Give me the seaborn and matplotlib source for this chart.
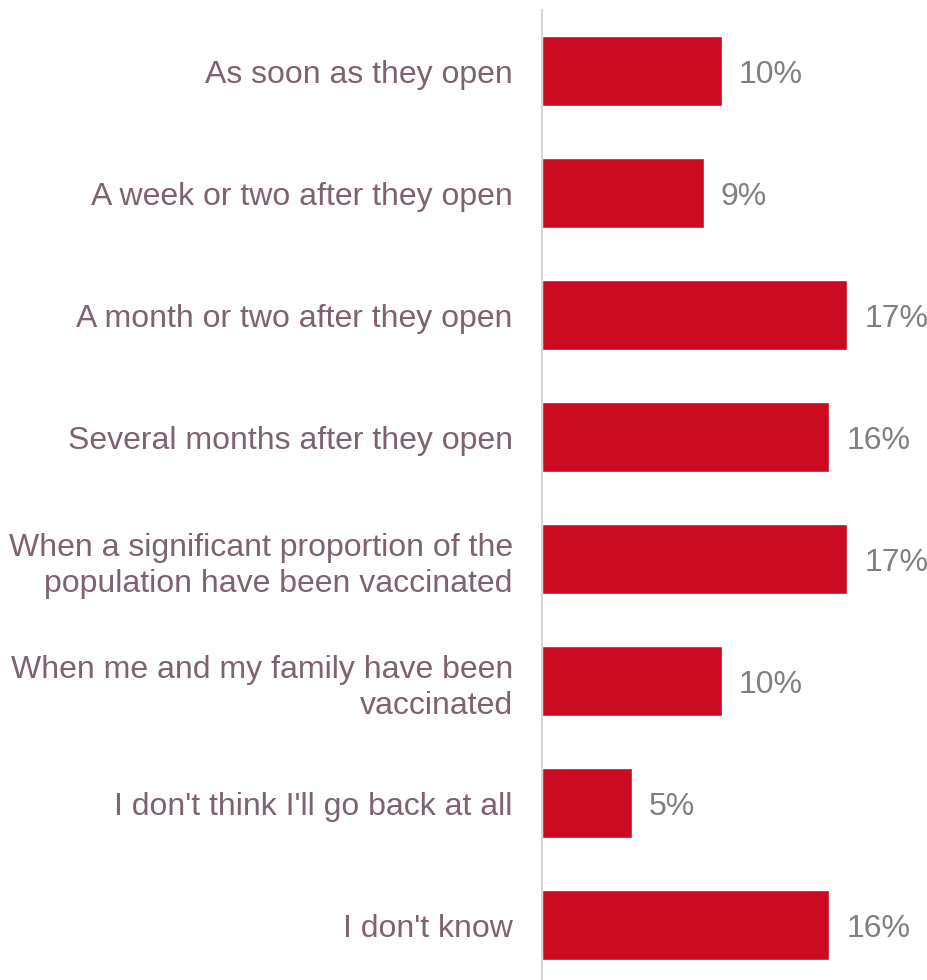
import matplotlib
matplotlib.use("Agg")
import matplotlib.pyplot as plt
import seaborn as sns
import pandas as pd

categories = [
    "As soon as they open",
    "A week or two after they open",
    "A month or two after they open",
    "Several months after they open",
    "When a significant proportion of the\npopulation have been vaccinated",
    "When me and my family have been\nvaccinated",
    "I don't think I'll go back at all",
    "I don't know",
]
values = [10, 9, 17, 16, 17, 10, 5, 16]
value_labels = ["10%", "9%", "17%", "16%", "17%", "10%", "5%", "16%"]

df = pd.DataFrame({"cat": categories, "val": values})

sns.set_theme(style="white")
plt.rcParams["font.family"] = ["Liberation Sans", "DejaVu Sans"]

W, H = 928, 980
fig = plt.figure(figsize=(W / 100, H / 100), dpi=100)
ax = fig.add_axes([542 / W, 0, 1 - 542 / W, 970 / H])

sns.barplot(data=df, x="val", y="cat", orient="h", color="#CB0B21",
            saturation=1, width=0.574, ax=ax)

ax.set_xlim(0, 21.5)
ax.set_ylim(7.45, -0.5)
ax.set_xlabel("")
ax.set_ylabel("")
ax.set_xticks([])
for s in ["top", "right", "bottom"]:
    ax.spines[s].set_visible(False)
ax.spines["left"].set_color("#D9D4D7")
ax.spines["left"].set_linewidth(1.5)

ax.tick_params(axis="y", length=0, pad=21, labelsize=23, labelcolor="#7E6271")
for t in ax.get_yticklabels():
    t.set_horizontalalignment("right")
    t.set_multialignment("right")
    t.set_linespacing(1.28)

for i, (v, lab) in enumerate(zip(values, value_labels)):
    ax.annotate(lab, xy=(v, i), xytext=(17, 0), textcoords="offset pixels",
                va="center_baseline", ha="left", fontsize=23, color="#808080")

fig.savefig("out.png", dpi=100, facecolor="white")
